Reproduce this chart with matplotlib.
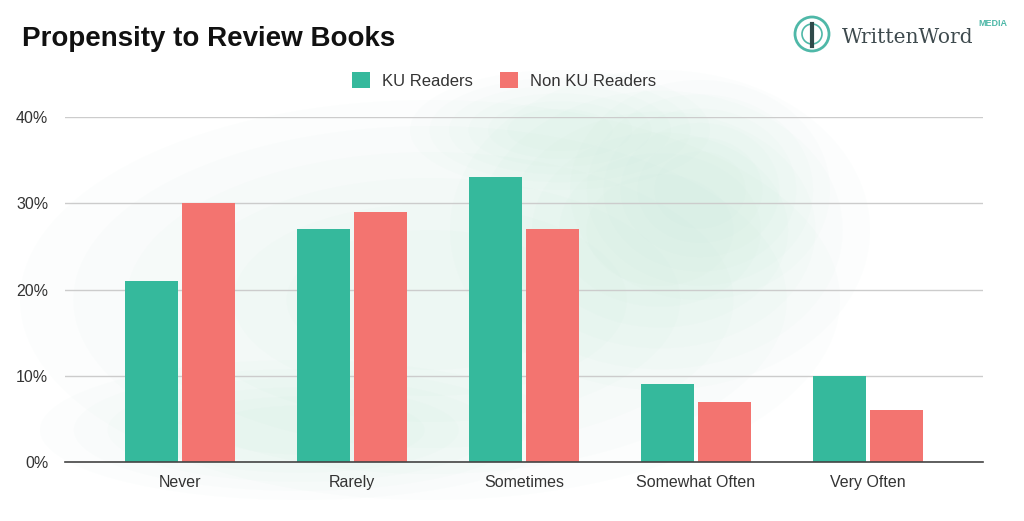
import numpy as np
import matplotlib
matplotlib.use('Agg')
from matplotlib import pyplot as plt
from matplotlib.patches import Ellipse, Circle

categories = ['Never', 'Rarely', 'Sometimes', 'Somewhat Often', 'Very Often']
ku_readers = [21, 27, 33, 9, 10]
non_ku_readers = [30, 29, 27, 7, 6]
y_ticks = [0, 10, 20, 30, 40]

teal = '#35b99c'
salmon = '#f37470'

plt.rcParams['font.family'] = ['Liberation Sans', 'DejaVu Sans']

fig = plt.figure(figsize=(10.24, 5.21), dpi=100)
fig.patch.set_facecolor('white')

# watercolor background wash (soft, layered)
bg = fig.add_axes([0, 0, 1, 1], zorder=0)
bg.set_xlim(0, 1024)
bg.set_ylim(521, 0)
bg.axis('off')
blobs = [(430, 300, 820, 400), (660, 230, 420, 320), (700, 190, 260, 220),
         (300, 430, 520, 140), (560, 130, 300, 120)]
for cx, cy, w, h in blobs:
    for k in range(6):
        f = 1 - k * 0.13
        bg.add_patch(Ellipse((cx, cy), w * f, h * f, color='#a6dccb', alpha=0.032, lw=0))

ax = fig.add_axes([0.0635, 0.1132, 0.8965, 0.6622], zorder=1)
ax.patch.set_alpha(0)

x = np.arange(len(categories))
width = 0.31
ax.bar(x - 0.165, ku_readers, width, color=teal, label='KU Readers', zorder=3)
ax.bar(x + 0.165, non_ku_readers, width, color=salmon, label='Non KU Readers', zorder=3)

ax.set_xlim(-0.67, 4.67)
ax.set_ylim(0, 40)
ax.set_yticks(y_ticks)
ax.set_yticklabels([f'{t}%' for t in y_ticks])
ax.set_xticks(x)
ax.set_xticklabels(categories)
ax.yaxis.grid(True, color='#cccccc', lw=1, zorder=0)
ax.set_axisbelow(True)
for s in ['top', 'right', 'left']:
    ax.spines[s].set_visible(False)
ax.spines['bottom'].set_color('#444444')
ax.spines['bottom'].set_linewidth(1.2)
ax.spines['bottom'].set_zorder(4)
ax.tick_params(axis='both', length=0, labelsize=11.5, colors='#333333')
ax.tick_params(axis='x', pad=9)
ax.tick_params(axis='y', pad=12)

ax.legend(loc='center', bbox_to_anchor=(0.478, 1.105), ncol=2, frameon=False,
          fontsize=12, handlelength=1.1, handleheight=1.1, columnspacing=1.6,
          handletextpad=0.7, labelcolor='#333333')

fig.text(0.021, 0.925, 'Propensity to Review Books', fontsize=20, fontweight='bold',
         color='#111111', va='center', ha='left')

# logo
bg.add_patch(Circle((812, 34), 17, fill=False, ec='#4fb8a8', lw=2))
bg.add_patch(Circle((812, 34), 10, fill=False, ec='#4fb8a8', lw=1.2))
bg.plot([812, 812], [24, 46], color='#2f4a4a', lw=3)
fig.text(0.822, 0.928, 'WrittenWord', fontsize=14.5, family='DejaVu Serif',
         color='#3e4a4e', va='center', ha='left')
fig.text(0.955, 0.955, 'MEDIA', fontsize=6.5, fontweight='bold',
         color='#4fb8a8', va='center', ha='left')

fig.savefig('out.png', dpi=100)
